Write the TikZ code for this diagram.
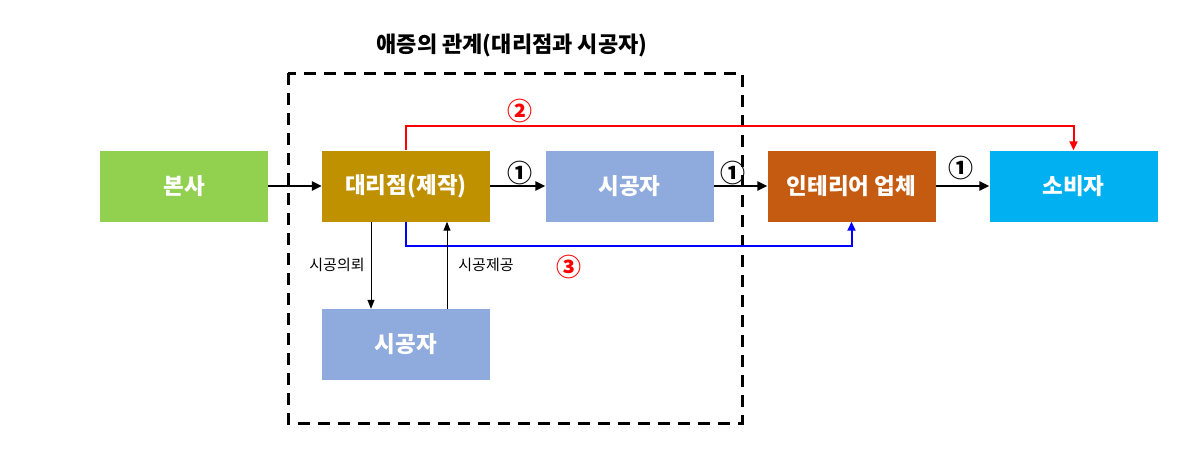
\documentclass[tikz,border=0pt]{standalone}
\usepackage{fontspec}
\setmainfont{Noto Sans CJK KR}
\usetikzlibrary{arrows.meta}
\definecolor{cgreen}{HTML}{92D050}
\definecolor{cgold}{HTML}{BF9000}
\definecolor{cblue}{HTML}{8FAADC}
\definecolor{corange}{HTML}{C55A11}
\definecolor{csky}{HTML}{00B0F0}
\tikzset{
  box/.style={fill=#1, draw=none, minimum width=168pt, minimum height=71pt, inner sep=0pt,
     text=white, font=\fontsize{22.5}{26}\selectfont\bfseries},
  mainarrow/.style={line width=2.8pt, -{Triangle[length=10pt,width=9pt]}},
  thinarrow/.style={line width=1pt, -{Triangle[length=9pt,width=7pt]}},
  circnum/.style={font=\fontsize{25}{28}\selectfont\bfseries},
  lbl/.style={font=\fontsize{15}{18}\selectfont},
}
\begin{document}
\begin{tikzpicture}[x=1pt,y=-1pt]
\useasboundingbox (0,0) rectangle (1190,451);
\node[font=\fontsize{22}{26}\selectfont\bfseries] (title) at (512,45) {애증의 관계(대리점과 시공자)};
\draw[line width=3pt, dash pattern=on 12pt off 8pt] (288,73) rectangle (742,423);

\node[box=cgreen] (bonsa) at (184,186) {본사};
\node[box=cgold] (daeri) at (406,186) {대리점(제작)};
\node[box=cblue] (sg1) at (629.5,186) {시공자};
\node[box=corange] (inter) at (851.5,186) {인테리어 업체};
\node[box=csky] (sobi) at (1073.5,186) {소비자};
\node[box=cblue] (sg2) at (406,344.5) {시공자};

\draw[mainarrow] (bonsa) -- (daeri);
\draw[mainarrow] (daeri) -- (sg1);
\draw[mainarrow] (sg1) -- (inter);
\draw[mainarrow] (inter) -- (sobi);

\node[circnum] (n1a) at (520,173) {①};
\node[circnum] (n1b) at (733,173) {①};
\node[circnum] (n1c) at (961,168) {①};

\draw[red, line width=2pt, -{Triangle[length=9pt,width=8pt]}] (daeri.north) -- ++(0,-24) coordinate (rc) -| (sobi.north);
\node[circnum, text=red] (n2) at (520,111) {②};

\draw[blue, line width=2pt, -{Triangle[length=9pt,width=8pt]}] (daeri.south) -- ++(0,24) coordinate (bc) -| (inter.south);
\node[circnum, text=red] (n3) at (569,267) {③};

\draw[thinarrow] ([xshift=-35pt]daeri.south) -- ([xshift=-35pt]sg2.north);
\draw[thinarrow] ([xshift=41pt]sg2.north) -- ([xshift=41pt]daeri.south);
\node[lbl] (l1) at (337,265) {시공의뢰};
\node[lbl] (l2) at (486,265) {시공제공};
\end{tikzpicture}
\end{document}
